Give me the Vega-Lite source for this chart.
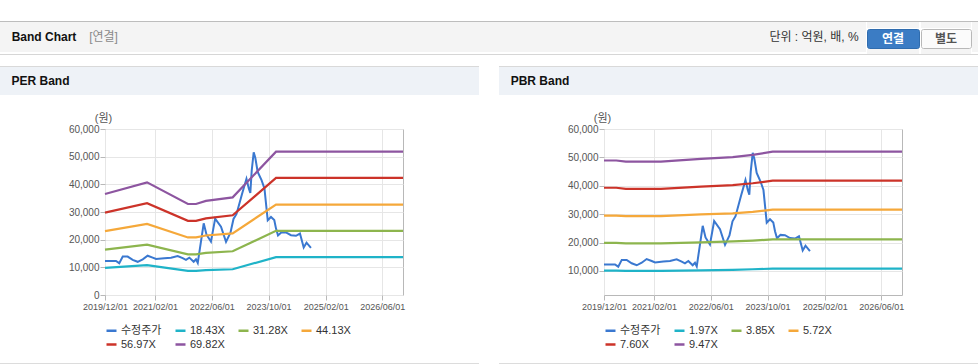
{
  "$schema": "https://vega.github.io/schema/vega-lite/v6.json",
  "background": "#ffffff",
  "padding": {"left": 0, "top": 21, "right": 0, "bottom": 0},
  "config": {
    "font": "Liberation Sans, Noto Sans CJK KR",
    "view": {"stroke": null}
  },
  "datasets": {
    "price": [
      {"date": "2019-12-01", "series": "수정주가", "value": 12300},
      {"date": "2020-03-04", "series": "수정주가", "value": 12300},
      {"date": "2020-04-01", "series": "수정주가", "value": 11500},
      {"date": "2020-05-01", "series": "수정주가", "value": 13900},
      {"date": "2020-06-12", "series": "수정주가", "value": 13900},
      {"date": "2020-07-25", "series": "수정주가", "value": 12700},
      {"date": "2020-09-06", "series": "수정주가", "value": 12000},
      {"date": "2020-10-19", "series": "수정주가", "value": 12900},
      {"date": "2020-11-30", "series": "수정주가", "value": 14200},
      {"date": "2021-01-12", "series": "수정주가", "value": 13500},
      {"date": "2021-02-10", "series": "수정주가", "value": 13000},
      {"date": "2021-04-22", "series": "수정주가", "value": 13300},
      {"date": "2021-06-18", "series": "수정주가", "value": 13500},
      {"date": "2021-08-14", "series": "수정주가", "value": 14100},
      {"date": "2021-09-26", "series": "수정주가", "value": 13300},
      {"date": "2021-10-24", "series": "수정주가", "value": 12700},
      {"date": "2021-11-22", "series": "수정주가", "value": 13500},
      {"date": "2021-12-29", "series": "수정주가", "value": 12000},
      {"date": "2022-01-18", "series": "수정주가", "value": 12900},
      {"date": "2022-02-02", "series": "수정주가", "value": 11600},
      {"date": "2022-03-25", "series": "수정주가", "value": 25900},
      {"date": "2022-04-18", "series": "수정주가", "value": 21800},
      {"date": "2022-05-26", "series": "수정주가", "value": 19300},
      {"date": "2022-07-01", "series": "수정주가", "value": 27600},
      {"date": "2022-08-20", "series": "수정주가", "value": 24700},
      {"date": "2022-10-02", "series": "수정주가", "value": 19200},
      {"date": "2022-11-09", "series": "수정주가", "value": 22500},
      {"date": "2022-12-05", "series": "수정주가", "value": 27500},
      {"date": "2022-12-31", "series": "수정주가", "value": 29300},
      {"date": "2023-02-16", "series": "수정주가", "value": 36500},
      {"date": "2023-03-26", "series": "수정주가", "value": 42000},
      {"date": "2023-04-15", "series": "수정주가", "value": 38500},
      {"date": "2023-04-28", "series": "수정주가", "value": 36900},
      {"date": "2023-05-10", "series": "수정주가", "value": 45000},
      {"date": "2023-05-27", "series": "수정주가", "value": 51600},
      {"date": "2023-06-10", "series": "수정주가", "value": 49500},
      {"date": "2023-06-30", "series": "수정주가", "value": 44500},
      {"date": "2023-08-02", "series": "수정주가", "value": 41500},
      {"date": "2023-08-27", "series": "수정주가", "value": 38500},
      {"date": "2023-09-24", "series": "수정주가", "value": 27000},
      {"date": "2023-10-22", "series": "수정주가", "value": 28200},
      {"date": "2023-11-19", "series": "수정주가", "value": 27100},
      {"date": "2023-12-04", "series": "수정주가", "value": 24000},
      {"date": "2023-12-21", "series": "수정주가", "value": 21500},
      {"date": "2024-01-20", "series": "수정주가", "value": 22700},
      {"date": "2024-02-27", "series": "수정주가", "value": 22600},
      {"date": "2024-04-10", "series": "수정주가", "value": 21600},
      {"date": "2024-05-23", "series": "수정주가", "value": 21400},
      {"date": "2024-06-26", "series": "수정주가", "value": 22200},
      {"date": "2024-07-28", "series": "수정주가", "value": 17200},
      {"date": "2024-08-21", "series": "수정주가", "value": 18900},
      {"date": "2024-09-28", "series": "수정주가", "value": 17000}
    ],
    "per": [
      {"date": "2019-12-01", "series": "18.43X", "value": 9800},
      {"date": "2020-11-25", "series": "18.43X", "value": 10800},
      {"date": "2021-11-10", "series": "18.43X", "value": 8700},
      {"date": "2022-01-18", "series": "18.43X", "value": 8700},
      {"date": "2022-04-13", "series": "18.43X", "value": 9000},
      {"date": "2022-11-28", "series": "18.43X", "value": 9300},
      {"date": "2023-12-04", "series": "18.43X", "value": 13700},
      {"date": "2026-11-25", "series": "18.43X", "value": 13700},
      {"date": "2019-12-01", "series": "31.28X", "value": 16400},
      {"date": "2020-11-25", "series": "31.28X", "value": 18200},
      {"date": "2021-11-10", "series": "31.28X", "value": 14700},
      {"date": "2022-01-18", "series": "31.28X", "value": 14700},
      {"date": "2022-04-13", "series": "31.28X", "value": 15200},
      {"date": "2022-11-28", "series": "31.28X", "value": 15800},
      {"date": "2023-12-04", "series": "31.28X", "value": 23200},
      {"date": "2026-11-25", "series": "31.28X", "value": 23200},
      {"date": "2019-12-01", "series": "44.13X", "value": 23100},
      {"date": "2020-11-25", "series": "44.13X", "value": 25700},
      {"date": "2021-11-10", "series": "44.13X", "value": 20800},
      {"date": "2022-01-18", "series": "44.13X", "value": 20800},
      {"date": "2022-04-13", "series": "44.13X", "value": 21500},
      {"date": "2022-11-28", "series": "44.13X", "value": 22300},
      {"date": "2023-12-04", "series": "44.13X", "value": 32700},
      {"date": "2026-11-25", "series": "44.13X", "value": 32700},
      {"date": "2019-12-01", "series": "56.97X", "value": 29800},
      {"date": "2020-11-25", "series": "56.97X", "value": 33200},
      {"date": "2021-11-10", "series": "56.97X", "value": 26800},
      {"date": "2022-01-18", "series": "56.97X", "value": 26800},
      {"date": "2022-04-13", "series": "56.97X", "value": 27700},
      {"date": "2022-11-28", "series": "56.97X", "value": 28800},
      {"date": "2023-12-04", "series": "56.97X", "value": 42300},
      {"date": "2026-11-25", "series": "56.97X", "value": 42300},
      {"date": "2019-12-01", "series": "69.82X", "value": 36500},
      {"date": "2020-11-25", "series": "69.82X", "value": 40700},
      {"date": "2021-11-10", "series": "69.82X", "value": 32900},
      {"date": "2022-01-18", "series": "69.82X", "value": 32900},
      {"date": "2022-04-13", "series": "69.82X", "value": 34000},
      {"date": "2022-11-28", "series": "69.82X", "value": 35300},
      {"date": "2023-12-04", "series": "69.82X", "value": 51800},
      {"date": "2026-11-25", "series": "69.82X", "value": 51800}
    ],
    "pbr": [
      {"date": "2019-12-01", "series": "1.97X", "value": 10100},
      {"date": "2020-03-15", "series": "1.97X", "value": 10100},
      {"date": "2020-06-05", "series": "1.97X", "value": 10000},
      {"date": "2021-04-01", "series": "1.97X", "value": 10000},
      {"date": "2022-03-10", "series": "1.97X", "value": 10200},
      {"date": "2022-12-07", "series": "1.97X", "value": 10400},
      {"date": "2023-05-27", "series": "1.97X", "value": 10600},
      {"date": "2023-11-14", "series": "1.97X", "value": 10800},
      {"date": "2026-11-25", "series": "1.97X", "value": 10800},
      {"date": "2019-12-01", "series": "3.85X", "value": 19900},
      {"date": "2020-03-15", "series": "3.85X", "value": 19900},
      {"date": "2020-06-05", "series": "3.85X", "value": 19700},
      {"date": "2021-04-01", "series": "3.85X", "value": 19700},
      {"date": "2022-03-10", "series": "3.85X", "value": 20100},
      {"date": "2022-12-07", "series": "3.85X", "value": 20400},
      {"date": "2023-05-27", "series": "3.85X", "value": 20700},
      {"date": "2023-11-14", "series": "3.85X", "value": 21100},
      {"date": "2026-11-25", "series": "3.85X", "value": 21100},
      {"date": "2019-12-01", "series": "5.72X", "value": 29500},
      {"date": "2020-03-15", "series": "5.72X", "value": 29500},
      {"date": "2020-06-05", "series": "5.72X", "value": 29300},
      {"date": "2021-04-01", "series": "5.72X", "value": 29300},
      {"date": "2022-03-10", "series": "5.72X", "value": 29900},
      {"date": "2022-12-07", "series": "5.72X", "value": 30300},
      {"date": "2023-05-27", "series": "5.72X", "value": 30800},
      {"date": "2023-11-14", "series": "5.72X", "value": 31600},
      {"date": "2026-11-25", "series": "5.72X", "value": 31600},
      {"date": "2019-12-01", "series": "7.60X", "value": 39300},
      {"date": "2020-03-15", "series": "7.60X", "value": 39300},
      {"date": "2020-06-05", "series": "7.60X", "value": 38900},
      {"date": "2021-04-01", "series": "7.60X", "value": 38900},
      {"date": "2022-03-10", "series": "7.60X", "value": 39700},
      {"date": "2022-12-07", "series": "7.60X", "value": 40200},
      {"date": "2023-05-27", "series": "7.60X", "value": 40900},
      {"date": "2023-11-14", "series": "7.60X", "value": 41800},
      {"date": "2026-11-25", "series": "7.60X", "value": 41800},
      {"date": "2019-12-01", "series": "9.47X", "value": 48900},
      {"date": "2020-03-15", "series": "9.47X", "value": 48900},
      {"date": "2020-06-05", "series": "9.47X", "value": 48500},
      {"date": "2021-04-01", "series": "9.47X", "value": 48500},
      {"date": "2022-03-10", "series": "9.47X", "value": 49500},
      {"date": "2022-12-07", "series": "9.47X", "value": 50100},
      {"date": "2023-05-27", "series": "9.47X", "value": 50900},
      {"date": "2023-11-14", "series": "9.47X", "value": 52000},
      {"date": "2026-11-25", "series": "9.47X", "value": 52000}
    ]
  },
  "spacing": 11,
  "resolve": {"scale": {"color": "independent", "x": "independent", "y": "independent"}, "legend": {"color": "independent"}},
  "vconcat": [
    {
      "spacing": 0,
      "vconcat": [
        {"data": {"values": []}, "mark": "text", "encoding": {}, "width": 978, "height": 1, "view": {"fill": "#bdbdbd", "stroke": null}},
        {
          "spacing": 0,
          "hconcat": [
            {"data": {"values": [{}]}, "mark": {"type": "text", "text": "Band Chart", "fontSize": 12, "fontWeight": "bold", "color": "#111111"}, "encoding": {}, "width": 88, "height": 30, "view": {"fill": "#f4f4f4", "stroke": null}},
            {"data": {"values": [{}]}, "mark": {"type": "text", "text": "[연결]", "fontSize": 12, "color": "#8a8a8a"}, "encoding": {}, "width": 31, "height": 30, "view": {"fill": "#f4f4f4", "stroke": null}},
            {"data": {"values": []}, "mark": "text", "encoding": {}, "width": 643, "height": 30, "view": {"fill": "#f4f4f4", "stroke": null}},
            {"data": {"values": [{}]}, "mark": {"type": "text", "text": "단위 : 억원, 배, %", "fontSize": 12, "color": "#333333"}, "encoding": {}, "width": 104, "height": 30, "view": {"fill": "#f4f4f4", "stroke": null}},
            {
              "spacing": 0,
              "vconcat": [
                {"data": {"values": []}, "mark": "text", "encoding": {}, "width": 52, "height": 6, "view": {"fill": "#f4f4f4", "stroke": null}},
                {"data": {"values": [{}]}, "mark": {"type": "text", "text": "연결", "fontSize": 12, "fontWeight": "bold", "color": "#ffffff"}, "encoding": {}, "width": 52, "height": 19, "view": {"fill": "#3b7cc4", "stroke": "#2f6cae", "cornerRadius": 2}},
                {"data": {"values": []}, "mark": "text", "encoding": {}, "width": 52, "height": 5, "view": {"fill": "#f4f4f4", "stroke": null}}
              ]
            },
            {
              "spacing": 0,
              "vconcat": [
                {"data": {"values": []}, "mark": "text", "encoding": {}, "width": 50, "height": 6, "view": {"fill": "#f4f4f4", "stroke": null}},
                {"data": {"values": [{}]}, "mark": {"type": "text", "text": "별도", "fontSize": 12, "fontWeight": "bold", "color": "#555555"}, "encoding": {}, "width": 50, "height": 19, "view": {"fill": "#fbfbfb", "stroke": "#b8b8b8", "cornerRadius": 2}},
                {"data": {"values": []}, "mark": "text", "encoding": {}, "width": 50, "height": 5, "view": {"fill": "#f4f4f4", "stroke": null}}
              ]
            },
            {"data": {"values": []}, "mark": "text", "encoding": {}, "width": 10, "height": 30, "view": {"fill": "#f4f4f4", "stroke": null}}
          ]
        },
        {"data": {"values": []}, "mark": "text", "encoding": {}, "width": 978, "height": 1, "view": {"fill": "#d6d6d6", "stroke": null}}
      ]
    },
    {
      "spacing": 20,
      "resolve": {"scale": {"color": "independent", "x": "independent", "y": "independent"}, "legend": {"color": "independent"}},
      "hconcat": [
        {
          "spacing": 16,
          "resolve": {"scale": {"color": "independent", "x": "independent", "y": "independent"}, "legend": {"color": "independent"}},
          "vconcat": [
            {
              "spacing": 0,
              "vconcat": [
                {"data": {"values": []}, "mark": "text", "encoding": {}, "width": 479, "height": 1, "view": {"fill": "#d9d9d9", "stroke": null}},
                {
                  "spacing": 0,
                  "hconcat": [
                    {"data": {"values": [{}]}, "mark": {"type": "text", "text": "PER Band", "fontSize": 12, "fontWeight": "bold", "color": "#111111"}, "encoding": {}, "width": 81, "height": 28, "view": {"fill": "#eef2f7", "stroke": null}},
                    {"data": {"values": []}, "mark": "text", "encoding": {}, "width": 398, "height": 28, "view": {"fill": "#eef2f7", "stroke": null}}
                  ]
                }
              ]
            },
            {
              "spacing": 12,
              "resolve": {"scale": {"color": "independent", "x": "independent", "y": "independent"}, "legend": {"color": "independent"}},
              "vconcat": [
                {
                  "spacing": 0,
                  "resolve": {"scale": {"color": "independent", "x": "independent", "y": "independent"}, "legend": {"color": "independent"}},
                  "hconcat": [
                    {"data": {"values": []}, "mark": "text", "encoding": {}, "width": 67, "height": 1, "view": {"stroke": null}},
                    {
                      "width": 298,
                      "height": 166,
                      "view": {"stroke": "#b8b8b8", "fill": "#ffffff"},
                      "encoding": {
                        "x": {
                          "field": "date", "type": "temporal",
                          "scale": {"type": "utc", "nice": false, "domain": [{"year": 2019, "month": 12, "date": 1, "utc": true}, {"year": 2026, "month": 11, "date": 25, "utc": true}]},
                          "axis": {
                            "values": [
                              {"year": 2019, "month": 12, "date": 1, "utc": true},
                              {"year": 2021, "month": 2, "date": 1, "utc": true},
                              {"year": 2022, "month": 6, "date": 1, "utc": true},
                              {"year": 2023, "month": 10, "date": 1, "utc": true},
                              {"year": 2025, "month": 2, "date": 1, "utc": true},
                              {"year": 2026, "month": 6, "date": 1, "utc": true}
                            ],
                            "format": "%Y/%m/%d", "title": null, "labelFontSize": 9, "labelColor": "#555555",
                            "labelPadding": 2, "tickSize": 5, "tickColor": "#b8b8b8", "domain": false,
                            "grid": true, "gridColor": "#e6e6e6", "labelFlush": false, "labelOverlap": false
                          }
                        },
                        "y": {
                          "field": "value", "type": "quantitative",
                          "scale": {"domain": [0, 60000], "nice": false, "zero": false},
                          "axis": {
                            "values": [0, 10000, 20000, 30000, 40000, 50000, 60000],
                            "format": ",d", "title": "(원)", "titleAngle": 0, "titleX": -2, "titleY": -11,
                            "titleAlign": "center", "titleBaseline": "middle", "titleFontSize": 11, "titleFontWeight": "normal",
                            "titleColor": "#555555", "labelFontSize": 10, "labelColor": "#555555", "labelPadding": 1,
                            "tickSize": 5, "tickColor": "#b8b8b8", "domain": false, "grid": true, "gridColor": "#e6e6e6"
                          }
                        },
                        "color": {
                          "field": "series", "type": "nominal",
                          "scale": {"domain": ["수정주가", "18.43X", "31.28X", "44.13X", "56.97X", "69.82X"], "range": ["#3a78d0", "#1fb3c8", "#8db54e", "#f5a83a", "#cc3329", "#8d55a0"]},
                          "legend": {
                            "title": null, "orient": "bottom", "direction": "horizontal", "columns": 4, "gridAlign": "each",
                            "symbolType": "stroke", "symbolStrokeWidth": 2.5, "symbolSize": 100,
                            "labelFontSize": 11, "labelColor": "#333333", "columnPadding": 8, "rowPadding": 2,
                            "labelOffset": 3, "offset": 13, "padding": 0
                          }
                        }
                      },
                      "layer": [
                        {"data": {"name": "price"}, "mark": {"type": "line", "strokeWidth": 2}},
                        {"data": {"name": "per"}, "mark": {"type": "line", "strokeWidth": 2.2}}
                      ]
                    }
                  ]
                },
                {"data": {"values": []}, "mark": "text", "encoding": {}, "width": 479, "height": 1.5, "view": {"fill": "#dcdcdc", "stroke": null}}
              ]
            }
          ]
        },
        {
          "spacing": 16,
          "resolve": {"scale": {"color": "independent", "x": "independent", "y": "independent"}, "legend": {"color": "independent"}},
          "vconcat": [
            {
              "spacing": 0,
              "vconcat": [
                {"data": {"values": []}, "mark": "text", "encoding": {}, "width": 479, "height": 1, "view": {"fill": "#d9d9d9", "stroke": null}},
                {
                  "spacing": 0,
                  "hconcat": [
                    {"data": {"values": [{}]}, "mark": {"type": "text", "text": "PBR Band", "fontSize": 12, "fontWeight": "bold", "color": "#111111"}, "encoding": {}, "width": 82, "height": 28, "view": {"fill": "#eef2f7", "stroke": null}},
                    {"data": {"values": []}, "mark": "text", "encoding": {}, "width": 397, "height": 28, "view": {"fill": "#eef2f7", "stroke": null}}
                  ]
                }
              ]
            },
            {
              "spacing": 12,
              "resolve": {"scale": {"color": "independent", "x": "independent", "y": "independent"}, "legend": {"color": "independent"}},
              "vconcat": [
                {
                  "spacing": 0,
                  "resolve": {"scale": {"color": "independent", "x": "independent", "y": "independent"}, "legend": {"color": "independent"}},
                  "hconcat": [
                    {"data": {"values": []}, "mark": "text", "encoding": {}, "width": 67, "height": 1, "view": {"stroke": null}},
                    {
                      "width": 298,
                      "height": 166,
                      "view": {"stroke": "#b8b8b8", "fill": "#ffffff"},
                      "encoding": {
                        "x": {
                          "field": "date", "type": "temporal",
                          "scale": {"type": "utc", "nice": false, "domain": [{"year": 2019, "month": 12, "date": 1, "utc": true}, {"year": 2026, "month": 11, "date": 25, "utc": true}]},
                          "axis": {
                            "values": [
                              {"year": 2019, "month": 12, "date": 1, "utc": true},
                              {"year": 2021, "month": 2, "date": 1, "utc": true},
                              {"year": 2022, "month": 6, "date": 1, "utc": true},
                              {"year": 2023, "month": 10, "date": 1, "utc": true},
                              {"year": 2025, "month": 2, "date": 1, "utc": true},
                              {"year": 2026, "month": 6, "date": 1, "utc": true}
                            ],
                            "format": "%Y/%m/%d", "title": null, "labelFontSize": 9, "labelColor": "#555555",
                            "labelPadding": 2, "tickSize": 5, "tickColor": "#b8b8b8", "domain": false,
                            "grid": true, "gridColor": "#e6e6e6", "labelFlush": false, "labelOverlap": false
                          }
                        },
                        "y": {
                          "field": "value", "type": "quantitative",
                          "scale": {"domain": [1530, 60000], "nice": false, "zero": false},
                          "axis": {
                            "values": [10000, 20000, 30000, 40000, 50000, 60000],
                            "format": ",d", "title": "(원)", "titleAngle": 0, "titleX": -2, "titleY": -11,
                            "titleAlign": "center", "titleBaseline": "middle", "titleFontSize": 11, "titleFontWeight": "normal",
                            "titleColor": "#555555", "labelFontSize": 10, "labelColor": "#555555", "labelPadding": 1,
                            "tickSize": 5, "tickColor": "#b8b8b8", "domain": false, "grid": true, "gridColor": "#e6e6e6"
                          }
                        },
                        "color": {
                          "field": "series", "type": "nominal",
                          "scale": {"domain": ["수정주가", "1.97X", "3.85X", "5.72X", "7.60X", "9.47X"], "range": ["#3a78d0", "#1fb3c8", "#8db54e", "#f5a83a", "#cc3329", "#8d55a0"]},
                          "legend": {
                            "title": null, "orient": "bottom", "direction": "horizontal", "columns": 4, "gridAlign": "each",
                            "symbolType": "stroke", "symbolStrokeWidth": 2.5, "symbolSize": 100,
                            "labelFontSize": 11, "labelColor": "#333333", "columnPadding": 8, "rowPadding": 2,
                            "labelOffset": 3, "offset": 13, "padding": 0
                          }
                        }
                      },
                      "layer": [
                        {"data": {"name": "price"}, "mark": {"type": "line", "strokeWidth": 2}},
                        {"data": {"name": "pbr"}, "mark": {"type": "line", "strokeWidth": 2.2}}
                      ]
                    }
                  ]
                },
                {"data": {"values": []}, "mark": "text", "encoding": {}, "width": 479, "height": 1.5, "view": {"fill": "#dcdcdc", "stroke": null}}
              ]
            }
          ]
        }
      ]
    }
  ]
}
